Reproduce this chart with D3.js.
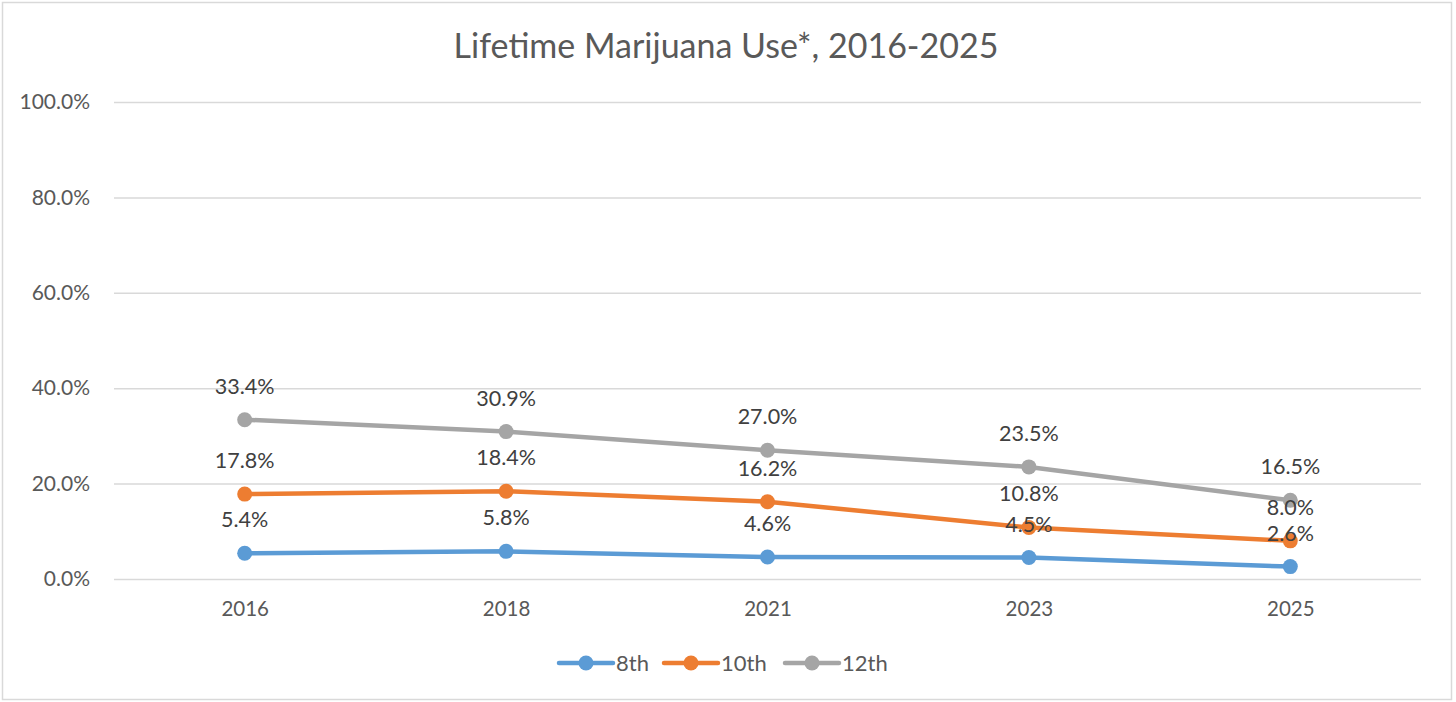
<!DOCTYPE html>
<html>
<head>
<meta charset="utf-8">
<script src="https://cdn.jsdelivr.net/npm/d3@7"></script>
<style>
  html, body { margin:0; padding:0; background:#fff; }
  svg { display:block; font-family: Lato, "Open Sans", sans-serif; }
</style>
</head>
<body>
<svg id="chart" width="1456" height="702"></svg>
<script>
// data
const years = ["2016", "2018", "2021", "2023", "2025"];
const grade8 = [5.4, 5.8, 4.6, 4.5, 2.6];
const grade10 = [17.8, 18.4, 16.2, 10.8, 8.0];
const grade12 = [33.4, 30.9, 27.0, 23.5, 16.5];
const yTicks = [0, 20, 40, 60, 80, 100];

const seriesList = [
  { name: "8th", values: grade8, color: "#5B9BD5" },
  { name: "10th", values: grade10, color: "#ED7D31" },
  { name: "12th", values: grade12, color: "#A5A5A5" }
];

const svg = d3.select("#chart");
const plot = { left: 114, right: 1421, top: 102, bottom: 579 };
const textColor = "#595959";
const fontFam = "Lato, 'Open Sans', sans-serif";

// chart border
svg.append("rect")
  .attr("x", 2.5).attr("y", 2.5)
  .attr("width", 1449).attr("height", 697)
  .attr("fill", "#fff")
  .attr("stroke", "#D9D9D9")
  .attr("stroke-width", 1.5);

svg.append("text")
  .attr("x", 726).attr("y", 58)
  .attr("text-anchor", "middle")
  .attr("font-size", 34)
  .attr("fill", textColor)
  .text("Lifetime Marijuana Use*, 2016-2025");

const x = d3.scalePoint()
  .domain(years)
  .range([plot.left, plot.right])
  .padding(0.5);

const y = d3.scaleLinear()
  .domain([0, 100])
  .range([plot.bottom, plot.top]);

// gridlines + y labels
const yAxis = d3.axisLeft(y)
  .tickValues(yTicks)
  .tickSize(-(plot.right - plot.left))
  .tickPadding(24)
  .tickFormat(d => d.toFixed(1) + "%");

const gy = svg.append("g")
  .attr("transform", `translate(${plot.left},0)`)
  .call(yAxis);
gy.select(".domain").remove();
gy.selectAll(".tick line").attr("stroke", "#D9D9D9").attr("stroke-width", 1.5);
gy.selectAll(".tick text")
  .attr("fill", textColor)
  .attr("font-size", 21)
  .attr("font-family", fontFam);

// x labels
const xAxis = d3.axisBottom(x).tickSize(0).tickPadding(22);
const gx = svg.append("g")
  .attr("transform", `translate(0,${plot.bottom})`)
  .call(xAxis);
gx.select(".domain").remove();
gx.selectAll(".tick text")
  .attr("fill", textColor)
  .attr("font-size", 20.5)
  .attr("font-family", fontFam);

const line = d3.line()
  .x((d, i) => x(years[i]))
  .y(d => y(d));

seriesList.forEach(s => {
  const g = svg.append("g");
  g.append("path")
    .attr("d", line(s.values))
    .attr("fill", "none")
    .attr("stroke", s.color)
    .attr("stroke-width", 4.5)
    .attr("stroke-linejoin", "round")
    .attr("stroke-linecap", "round");
  g.selectAll("circle")
    .data(s.values)
    .join("circle")
    .attr("cx", (d, i) => x(years[i]))
    .attr("cy", d => y(d))
    .attr("r", 7.5)
    .attr("fill", s.color);
});

// data labels drawn on top of everything
seriesList.forEach(s => {
  svg.append("g").selectAll("text")
    .data(s.values)
    .join("text")
    .attr("x", (d, i) => x(years[i]))
    .attr("y", d => y(d) - 26)
    .attr("text-anchor", "middle")
    .attr("font-size", 21.5)
    .attr("fill", "#404040")
    .text(d => d.toFixed(1) + "%");
});

// legend
const legendX = [559, 664, 785];
const legend = svg.append("g").attr("transform", "translate(0,663)");
seriesList.forEach((s, i) => {
  const lg = legend.append("g").attr("transform", `translate(${legendX[i]},0)`);
  lg.append("line")
    .attr("x1", 0).attr("x2", 54)
    .attr("stroke", s.color)
    .attr("stroke-width", 4.5)
    .attr("stroke-linecap", "round");
  lg.append("circle").attr("cx", 27).attr("r", 7.5).attr("fill", s.color);
  lg.append("text")
    .attr("x", 57).attr("y", 8)
    .attr("font-size", 22)
    .attr("fill", textColor)
    .text(s.name);
});
</script>
</body>
</html>
